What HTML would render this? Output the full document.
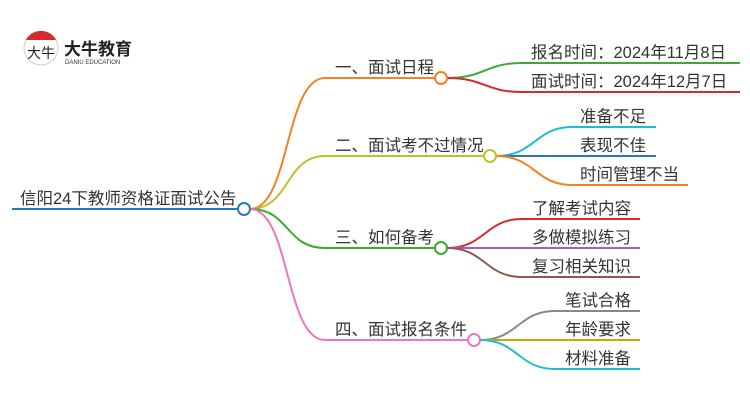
<!DOCTYPE html>
<html><head><meta charset="utf-8"><style>
html,body{margin:0;padding:0;background:#fff}
svg text{font-family:"Liberation Sans","Noto Sans CJK SC",sans-serif;fill:#333}
</style></head><body>
<svg width="750" height="410" xmlns="http://www.w3.org/2000/svg">
<g fill="none" stroke-width="2">
<line x1="12" y1="209" x2="238" y2="209" stroke="#2a7ab8"/>
<path d="M250,209 C290,209 285,78 325,78 L435,78" stroke="#f58220"/>
<path d="M250,209 C290,209 285,156 325,156 L484,156" stroke="#bcc030"/>
<path d="M250,209 C290,209 285,248 325,248 L435,248" stroke="#3aaa35"/>
<path d="M250,209 C290,209 285,340 325,340 L468,340" stroke="#e878c8"/>
<path d="M447,78 C485,78 485,63 522,63 L740,63" stroke="#3aaa35"/>
<path d="M447,78 C485,78 485,92 522,92 L740,92" stroke="#d92b2b"/>
<path d="M496,156 C535,156 535,127 572,127 L656,127" stroke="#22bcd0"/>
<path d="M496,156 L656,156" stroke="#2a7ab8"/>
<path d="M496,156 C535,156 535,185 572,185 L688,185" stroke="#f58220"/>
<path d="M447,248 C485,248 485,219 522,219 L640,219" stroke="#d92b2b"/>
<path d="M447,248 L640,248" stroke="#a060c8"/>
<path d="M447,248 C485,248 485,277 522,277 L640,277" stroke="#8a5a50"/>
<path d="M480,340 C518,340 518,311 555,311 L640,311" stroke="#888"/>
<path d="M480,340 L640,340" stroke="#b8b000"/>
<path d="M480,340 C518,340 518,369 555,369 L640,369" stroke="#22bcd0"/>
</g>
<g fill="#fff" stroke-width="2">
<circle cx="244" cy="209" r="6" stroke="#2a7ab8"/>
<circle cx="441" cy="78" r="6" stroke="#f58220"/>
<circle cx="490" cy="156" r="6" stroke="#bcc030"/>
<circle cx="441" cy="248" r="6" stroke="#3aaa35"/>
<circle cx="474" cy="340" r="6" stroke="#e878c8"/>
</g>
<g font-size="16.5">
<text x="20" y="204">信阳24下教师资格证面试公告</text>
<text x="335" y="73">一、面试日程</text>
<text x="335" y="151">二、面试考不过情况</text>
<text x="335" y="243">三、如何备考</text>
<text x="335" y="335">四、面试报名条件</text>
<text x="531" y="58">报名时间：2024年11月8日</text>
<text x="531" y="87">面试时间：2024年12月7日</text>
<text x="580" y="122">准备不足</text>
<text x="580" y="151">表现不佳</text>
<text x="580" y="180">时间管理不当</text>
<text x="532" y="214">了解考试内容</text>
<text x="532" y="243">多做模拟练习</text>
<text x="532" y="272">复习相关知识</text>
<text x="565" y="306">笔试合格</text>
<text x="565" y="335">年龄要求</text>
<text x="565" y="364">材料准备</text>
</g>
<circle cx="41" cy="48" r="17" fill="#fff" stroke="#ccc" stroke-width="1"/>
<path d="M26,40 A17,17 0 0 1 56,40 Z" fill="#d42a2a"/>
<text x="27" y="58" font-size="14" style="fill:#222">大牛</text>
<text x="64" y="55" font-size="17" font-weight="bold" style="fill:#222">大牛教育</text>
<text x="65" y="64" font-size="6" style="fill:#333">DANIU EDUCATION</text>
</svg>
</body></html>
